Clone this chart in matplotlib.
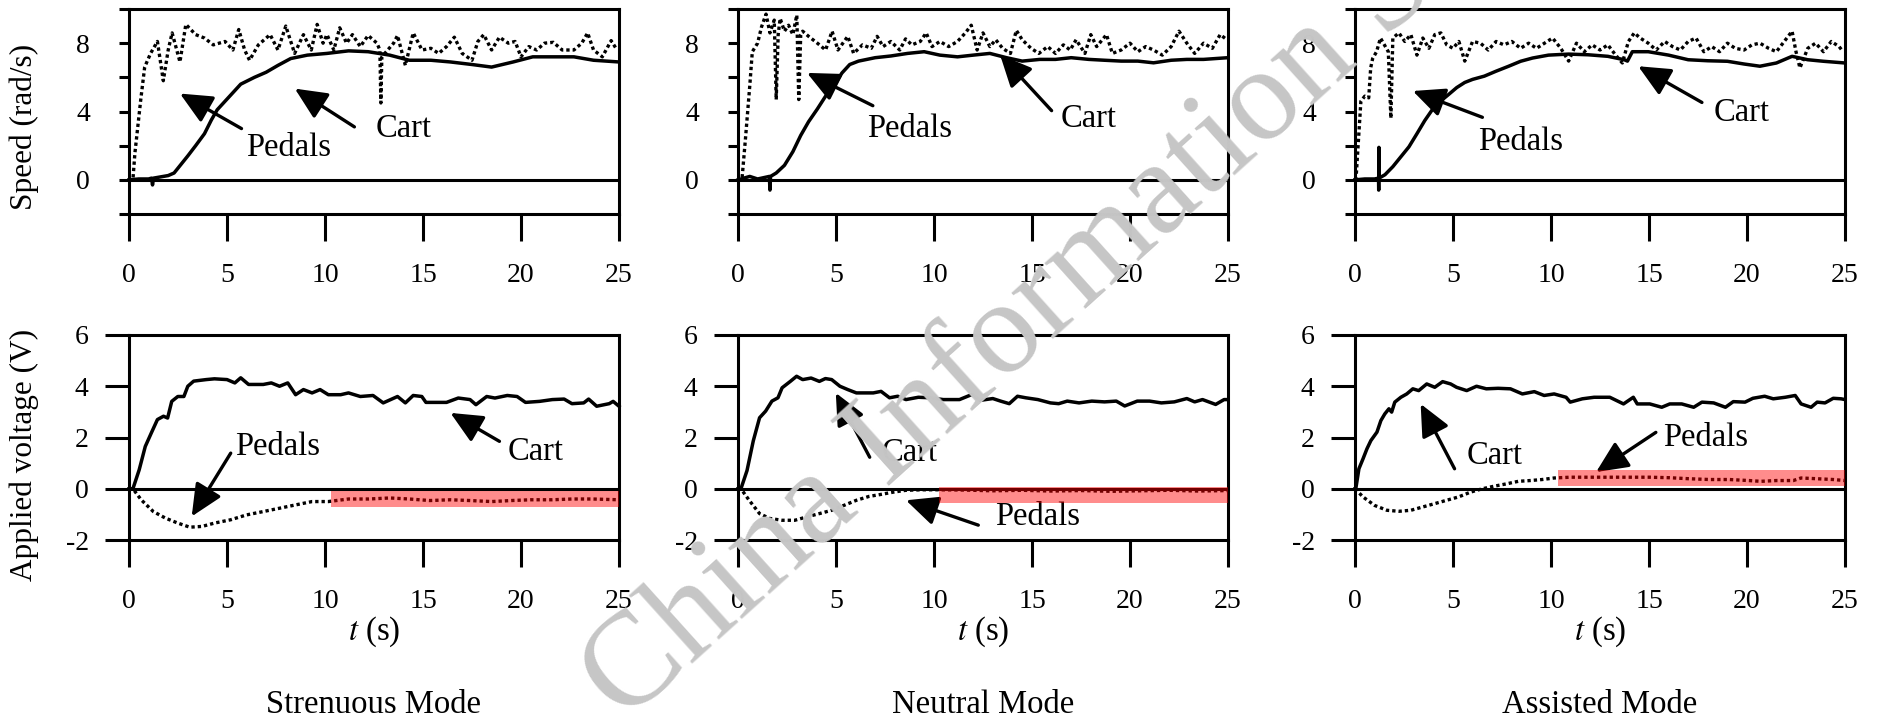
import matplotlib
matplotlib.use("Agg")
import matplotlib.pyplot as plt

plt.rcParams["font.family"] = "serif"
plt.rcParams["font.serif"] = ["Liberation Serif", "Times New Roman", "Nimbus Roman", "Tinos", "DejaVu Serif"]
plt.rcParams["mathtext.fontset"] = "stix"

W, H = 1879, 721

modes = ["Strenuous Mode", "Neutral Mode", "Assisted Mode"]

# --- speed (rad/s), top row ---
str_speed_cart_t = [0, 0.5, 1.0, 1.15, 1.2, 1.25, 1.5, 2.0, 2.3, 2.65, 3.0, 3.4, 3.85, 4.2, 4.5, 5.1, 5.7, 6.4, 7.0,
                    7.6, 8.25, 9.1, 10.1, 11.2, 12.2, 13.3, 14.3, 15.4, 16.4, 17.5, 18.5, 19.6, 20.6, 21.65, 22.7,
                    23.7, 25]
str_speed_cart = [0, 0.05, 0.05, 0.1, -0.3, 0.1, 0.15, 0.25, 0.4, 0.9, 1.4, 2.0, 2.7, 3.5, 4.1, 4.85, 5.6, 6.0, 6.3,
                  6.7, 7.1, 7.3, 7.4, 7.55, 7.5, 7.3, 7.0, 7.0, 6.9, 6.75, 6.6, 6.9, 7.2, 7.2, 7.2, 7.0, 6.9]
str_speed_ped_t = [0, 0.2, 0.3, 0.6, 0.8, 1.1, 1.45, 1.75, 2.0, 2.2, 2.6, 2.9, 3.4, 3.85, 4.3, 4.9, 5.3, 5.6, 5.9, 6.15,
                   6.6, 7.2, 7.6, 8.0, 8.45, 8.9, 9.3, 9.6, 9.9, 10.1, 10.45, 10.75, 11.1, 11.4, 11.8, 12.2, 12.65,
                   12.8, 12.85, 12.9, 13.05, 13.5, 13.7, 14.1, 14.5, 14.95, 15.4, 15.8, 16.2, 16.6, 17.0, 17.5, 17.8,
                   18.1, 18.5, 18.9, 19.35, 19.7, 20.0, 20.4, 20.8, 21.2, 21.65, 22.1, 22.7, 23.1, 23.4, 23.7, 24.15,
                   24.6, 24.9]
str_speed_ped = [0, 0, 1.55, 4.7, 6.6, 7.4, 8.1, 5.8, 7.6, 8.6, 6.9, 9.1, 8.5, 8.3, 7.9, 8.1, 7.6, 8.8, 7.6, 7.0,
                 7.9, 8.5, 7.6, 9.0, 7.4, 8.5, 7.6, 9.1, 8.0, 8.5, 7.6, 8.9, 8.0, 8.5, 7.8, 8.45, 8.0,
                 7.6, 4.5, 7.2, 7.4, 8.0, 8.45, 6.7, 8.6, 7.6, 7.7, 7.4, 7.8, 8.35, 7.4, 7.0, 8.1,
                 8.5, 7.6, 8.35, 8.0, 8.1, 7.2, 7.8, 7.6, 8.0, 8.05, 7.6, 7.6, 8.0, 8.6, 7.6, 7.2,
                 8.15, 7.6]

neu_speed_cart_t = [0, 0.3, 0.6, 1.0, 1.4, 1.6, 1.63, 1.66, 1.95, 2.37, 2.8, 3.2, 3.6, 4.05, 4.47, 4.9, 5.3, 5.7, 6.15,
                    7.0, 7.8, 8.65, 9.5, 10.3, 11.2, 12.0, 12.85, 13.7, 14.5, 15.4, 16.2, 17.0, 17.9, 18.7, 19.55,
                    20.4, 21.2, 22.1, 22.9, 23.75, 25]
neu_speed_cart = [0, 0.1, 0.2, 0.05, 0.15, 0.2, -0.6, 0.2, 0.4, 0.85, 1.65, 2.6, 3.4, 4.15, 4.9, 5.5, 6.25, 6.75, 6.95,
                  7.15, 7.25, 7.4, 7.5, 7.3, 7.2, 7.3, 7.4, 7.15, 6.95, 7.05, 7.05, 7.15, 7.05, 7.0, 6.95,
                  6.95, 6.85, 7.0, 7.05, 7.05, 7.15]
neu_speed_ped_t = [0, 0.2, 0.38, 0.6, 0.73, 1.0, 1.2, 1.43, 1.63, 1.85, 1.95, 2.05, 2.15, 2.37, 2.58, 2.8, 3.0, 3.1,
                   3.2, 3.3, 3.6, 4.05, 4.47, 4.8, 5.1, 5.6, 5.9, 6.35, 6.8, 7.1, 7.4, 7.8, 8.25, 8.55, 8.87, 9.3,
                   9.6, 9.9, 10.3, 10.75, 11.2, 11.6, 11.9, 12.2, 12.5, 12.85, 13.15, 13.5, 13.9, 14.2, 14.5, 14.95,
                   15.35, 15.8, 16.2, 16.6, 16.95, 17.25, 17.7, 18.0, 18.3, 18.8, 19.1, 19.55, 20.0, 20.4, 20.8,
                   21.2, 21.65, 22.1, 22.5, 22.9, 23.3, 23.75, 24.2, 24.6, 24.95]
neu_speed_ped = [0, 0, 2.4, 5.5, 7.5, 8.0, 8.95, 9.7, 8.6, 9.35, 4.7, 8.5, 9.45, 8.7, 9.05, 8.5, 9.65, 4.7,
                 8.5, 8.7, 8.4, 8.0, 7.6, 8.7, 7.6, 8.4, 7.4, 7.9, 7.7, 8.4, 7.8, 8.1, 7.6, 8.25, 7.9, 8.1,
                 8.6, 7.8, 8.1, 7.8, 8.1, 8.6, 9.05, 7.6, 8.6, 7.8, 8.2, 7.7, 7.4, 8.75, 8.2, 7.7,
                 7.4, 7.8, 7.4, 7.9, 7.6, 8.2, 7.4, 8.5, 7.8, 8.5, 7.4, 7.6, 8.0, 7.5, 7.8,
                 7.6, 7.3, 7.8, 8.7, 8.0, 7.4, 8.0, 7.7, 8.5, 8.2]

ass_speed_cart_t = [0, 0.5, 1.0, 1.2, 1.21, 1.22, 1.23, 1.53, 1.93, 2.34, 2.75, 3.16, 3.56, 3.97, 4.38, 4.78, 5.19, 5.6,
                    6.0, 6.6, 7.2, 7.84, 8.45, 9.06, 9.87, 10.9, 11.9, 12.9, 13.74, 13.9, 14.15, 14.96, 16.0, 17.0,
                    18.0, 19.0, 19.85, 20.66, 21.5, 22.3, 23.1, 23.9, 25]
ass_speed_cart = [0, 0.05, 0.05, 0.1, -0.6, 1.9, 0.1, 0.3, 0.77, 1.35, 1.93, 2.7, 3.47, 4.15, 4.62, 5.0, 5.4, 5.7,
                  5.88, 6.07, 6.36, 6.65, 6.94, 7.13, 7.3, 7.36, 7.32, 7.23, 7.03, 6.95, 7.5, 7.5, 7.3, 7.03,
                  6.97, 6.94, 6.78, 6.65, 6.84, 7.23, 7.03, 6.94, 6.84]
ass_speed_ped_t = [0, 0.06, 0.3, 0.5, 0.7, 0.8, 0.9, 1.1, 1.3, 1.5, 1.7, 1.83, 1.93, 2.24, 2.54, 2.85, 3.16, 3.46,
                   3.77, 4.07, 4.38, 4.68, 5.0, 5.3, 5.6, 6.0, 6.4, 6.8, 7.2, 7.6, 8.0, 8.45, 8.86, 9.26, 9.67,
                   10.08, 10.5, 10.9, 11.3, 11.7, 12.1, 12.5, 12.9, 13.3, 13.64, 13.95, 14.25, 14.55, 14.96, 15.37,
                   15.8, 16.2, 16.6, 17.0, 17.4, 17.8, 18.2, 18.6, 19.0, 19.4, 19.85, 20.25, 20.66, 21.1, 21.5,
                   21.9, 22.3, 22.5, 22.7, 23.1, 23.5, 23.9, 24.3, 24.7, 24.9]
ass_speed_ped = [0, 0.2, 4.6, 4.9, 4.8, 6.55, 7.1, 7.5, 8.3, 7.9, 7.5, 3.6, 8.3, 8.6, 8.1, 8.5, 7.3, 8.3,
                 7.7, 8.5, 8.6, 7.9, 7.7, 8.1, 6.95, 8.1, 8.0, 7.6, 8.1, 7.9, 8.1, 7.7, 8.0, 7.7, 8.0,
                 8.3, 7.7, 6.95, 8.0, 7.5, 7.9, 7.6, 7.9, 7.3, 6.84, 8.1, 8.6, 8.3, 8.0, 7.6,
                 8.1, 7.8, 7.6, 8.1, 8.3, 7.5, 7.8, 7.5, 8.0, 7.7, 7.6, 7.9, 8.0, 7.7, 7.5,
                 8.1, 8.7, 7.5, 6.55, 7.7, 8.0, 7.5, 8.1, 7.8, 7.5]

# --- applied voltage (V), bottom row ---
str_volt_cart_t = [0, 0.2, 0.52, 0.83, 1.14, 1.45, 1.76, 1.97, 2.18, 2.49, 2.8, 3.0, 3.3, 3.94, 4.36, 5.0, 5.4, 5.7,
                   6.1, 6.85, 7.26, 7.68, 8.1, 8.5, 8.9, 9.34, 9.75, 10.17, 10.8, 11.2, 11.8, 12.45, 12.97, 13.7,
                   14.1, 14.5, 14.94, 15.15, 16.2, 16.8, 17.4, 17.7, 18.25, 18.67, 19.3, 19.8, 20.23, 20.95, 21.6,
                   22.2, 22.6, 23.2, 23.45, 23.86, 24.5, 24.7, 25]
str_volt_cart = [0, 0, 0.74, 1.65, 2.18, 2.7, 2.83, 2.76, 3.41, 3.6, 3.6, 4.0, 4.2, 4.26, 4.29, 4.26, 4.13, 4.33,
                 4.07, 4.07, 4.13, 4.0, 4.13, 3.67, 3.87, 3.74, 3.87, 3.67, 3.67, 3.74, 3.6, 3.64, 3.35, 3.6,
                 3.35, 3.64, 3.6, 3.37, 3.37, 3.54, 3.48, 3.28, 3.6, 3.54, 3.64, 3.6, 3.37, 3.41, 3.48,
                 3.5, 3.32, 3.35, 3.5, 3.22, 3.32, 3.41, 3.22]
str_volt_ped_t = [0, 0.2, 0.62, 1.24, 1.87, 2.49, 3.1, 3.73, 4.36, 5.19, 6.0, 6.85, 7.68, 8.5, 9.34, 10.17, 11.2,
                  12.24, 13.3, 14.3, 15.35, 16.4, 17.4, 18.5, 19.5, 20.5, 21.6, 22.6, 23.65, 25]
str_volt_ped = [0, 0, -0.43, -0.89, -1.15, -1.34, -1.5, -1.47, -1.34, -1.21, -1.02, -0.89, -0.76, -0.63, -0.5, -0.5,
                -0.4, -0.4, -0.36, -0.4, -0.46, -0.43, -0.46, -0.5, -0.46, -0.43, -0.43, -0.4, -0.4, -0.43]

neu_volt_cart_t = [0, 0.15, 0.46, 0.78, 1.1, 1.41, 1.73, 2.04, 2.25, 2.67, 2.99, 3.3, 3.73, 4.15, 4.46, 4.78, 5.2, 5.6,
                   6.04, 6.9, 7.3, 7.73, 8.15, 8.57, 9.2, 9.84, 10.47, 11.3, 11.94, 12.36, 13.0, 13.4, 13.84, 14.26,
                   14.68, 15.3, 15.94, 16.36, 16.8, 17.4, 18.05, 18.7, 19.3, 19.73, 20.37, 21.0, 21.6, 22.26, 22.9,
                   23.3, 23.7, 24.37, 24.8, 25]
neu_volt_cart = [0, 0, 0.71, 1.87, 2.77, 3.03, 3.42, 3.55, 3.94, 4.19, 4.39, 4.26, 4.32, 4.19, 4.3, 4.26, 4.0, 3.87,
                 3.74, 3.74, 3.8, 3.55, 3.61, 3.48, 3.57, 3.55, 3.48, 3.48, 3.68, 3.45, 3.52, 3.42, 3.32, 3.61,
                 3.55, 3.48, 3.35, 3.32, 3.42, 3.35, 3.42, 3.39, 3.42, 3.23, 3.42, 3.42, 3.35, 3.39, 3.52,
                 3.39, 3.48, 3.29, 3.48, 3.48]
neu_volt_ped_t = [0, 0.15, 0.57, 1.1, 1.62, 2.25, 2.9, 3.5, 4.15, 4.78, 5.4, 6.04, 6.68, 7.3, 7.94, 8.57, 9.4, 10.26,
                  11.5, 13.0, 14.5, 16.0, 17.5, 19.0, 20.5, 22.0, 23.5, 25]
neu_volt_ped = [0, 0, -0.45, -0.97, -1.16, -1.23, -1.23, -1.1, -0.97, -0.84, -0.65, -0.45, -0.3, -0.22, -0.13, -0.06,
                -0.04, -0.04, -0.05, -0.08, -0.06, -0.09, -0.07, -0.1, -0.08, -0.06, -0.09, -0.07]

ass_volt_cart_t = [0, 0.04, 0.2, 0.41, 0.61, 0.81, 1.12, 1.32, 1.52, 1.73, 1.87, 2.03, 2.34, 2.64, 2.95, 3.25, 3.66,
                   4.07, 4.47, 4.88, 5.18, 5.7, 6.2, 6.7, 7.3, 7.93, 8.54, 9.15, 9.65, 10.16, 10.77, 10.98, 11.6,
                   12.2, 13.0, 13.7, 14.2, 14.4, 15.04, 15.65, 16.06, 16.67, 17.28, 17.7, 18.3, 18.9, 19.3, 19.9,
                   20.3, 20.9, 21.34, 21.95, 22.46, 22.76, 23.27, 23.58, 23.98, 24.4, 24.8, 25]
ass_volt_cart = [0, 0, 0.78, 1.17, 1.56, 1.88, 2.21, 2.66, 2.92, 3.12, 2.99, 3.38, 3.57, 3.7, 3.9, 3.83, 4.09,
                 3.96, 4.18, 4.09, 3.96, 3.83, 4.0, 3.9, 3.92, 3.9, 3.7, 3.79, 3.64, 3.7, 3.57, 3.38, 3.51,
                 3.57, 3.57, 3.31, 3.57, 3.31, 3.31, 3.18, 3.31, 3.31, 3.18, 3.38, 3.35, 3.18, 3.4, 3.38,
                 3.53, 3.61, 3.51, 3.57, 3.64, 3.31, 3.18, 3.38, 3.35, 3.53, 3.51, 3.48]
ass_volt_ped_t = [0, 0.41, 1.0, 1.63, 2.24, 2.85, 3.46, 4.07, 4.67, 5.28, 5.9, 6.5, 7.1, 7.72, 8.33, 8.94, 9.55, 10.16,
                  10.98, 12.0, 13.0, 14.0, 15.04, 16.06, 17.07, 18.1, 19.1, 20.1, 20.7, 21.5, 22.36, 22.76, 23.6,
                  24.4, 25]
ass_volt_ped = [0, -0.32, -0.65, -0.84, -0.88, -0.84, -0.71, -0.58, -0.45, -0.32, -0.13, 0, 0.1, 0.19, 0.29, 0.32,
                0.36, 0.42, 0.45, 0.45, 0.45, 0.45, 0.45, 0.43, 0.39, 0.36, 0.36, 0.32, 0.29, 0.32, 0.32, 0.42,
                0.39, 0.36, 0.32]

# red highlight bands (bottom row): start time, low, high
band_t0 = [10.33, 10.25, 10.37]
band_lo = [-0.72, -0.56, 0.10]
band_hi = [-0.10, 0.07, 0.72]

# annotations: (label, label xy, arrow tail, arrow tip)
speed_notes = [
    [("Pedals", (8.15, 1.85), (5.74, 3.0), (2.6, 5.05)), ("Cart", (14.0, 3.0), (11.5, 3.1), (8.46, 5.34))],
    [("Pedals", (8.76, 3.0), (6.88, 4.34), (3.52, 6.26)), ("Cart", (17.9, 3.56), (16.0, 4.05), (13.37, 7.32))],
    [("Pedals", (8.45, 2.2), (6.5, 3.66), (2.95, 5.2)), ("Cart", (19.75, 3.95), (17.7, 4.53), (14.45, 6.65))],
]
volt_notes = [
    [("Pedals", (7.57, 1.65), (5.19, 1.39), (3.2, -1.08)), ("Cart", (20.75, 1.46), (18.9, 1.85), (16.4, 2.96))],
    [("Cart", (8.78, 1.42), (6.72, 1.23), (4.99, 3.74)), ("Pedals", (15.3, -1.1), (12.26, -1.42), (8.57, -0.45))],
    [("Cart", (7.11, 1.3), (5.08, 0.78), (3.35, 3.31)), ("Pedals", (17.9, 2.0), (15.35, 2.2), (12.3, 0.65))],
]

speed_data = [
    (str_speed_cart_t, str_speed_cart, str_speed_ped_t, str_speed_ped),
    (neu_speed_cart_t, neu_speed_cart, neu_speed_ped_t, neu_speed_ped),
    (ass_speed_cart_t, ass_speed_cart, ass_speed_ped_t, ass_speed_ped),
]
volt_data = [
    (str_volt_cart_t, str_volt_cart, str_volt_ped_t, str_volt_ped),
    (neu_volt_cart_t, neu_volt_cart, neu_volt_ped_t, neu_volt_ped),
    (ass_volt_cart_t, ass_volt_cart, ass_volt_ped_t, ass_volt_ped),
]

col_x = [129, 738, 1355]
AX_W, AX_H = 490, 205
TOP_Y, BOT_Y = 9, 335

LW = 2.2
TICK_FS = 20
TXT_FS = 23.5


def px_rect(x, y):
    return [x / W, 1 - (y + AX_H) / H, AX_W / W, AX_H / H]


def style_axes(ax, ylen, ypad):
    ax.set_facecolor("none")
    for s in ax.spines.values():
        s.set_linewidth(LW)
    ax.set_xlim(0, 25)
    ax.set_xticks([0, 5, 10, 15, 20, 25])
    ax.tick_params(axis="x", direction="out", length=19.5, width=LW, labelsize=TICK_FS, pad=16)
    ax.tick_params(axis="y", direction="out", length=ylen, width=LW, labelsize=TICK_FS, pad=ypad)
    ax.axhline(0, color="black", lw=LW, zorder=2)


def draw_curves(ax, t_c, v_c, t_p, v_p):
    ax.plot(t_c, v_c, color="black", lw=2.5, zorder=3, clip_on=False)
    ax.plot(t_p, v_p, color="black", lw=2.4, ls=(0, (1, 0.9)), zorder=3, clip_on=False)


def draw_notes(ax, notes):
    for label, pos, tail, tip in notes:
        ax.text(pos[0], pos[1], label, fontsize=TXT_FS, ha="center", va="center", zorder=4)
        ax.annotate("", xy=tip, xytext=tail, zorder=4,
                    arrowprops=dict(arrowstyle="-|>,head_length=0.65,head_width=0.3", mutation_scale=30,
                                    lw=2.4, color="black", shrinkA=0, shrinkB=0))


def main():
    fig = plt.figure(figsize=(W / 100, H / 100), dpi=100)

    # faint watermark behind everything
    fig.text(624 / W, 1 - 724 / H, "China Information Science", rotation=42, rotation_mode="anchor",
             ha="left", va="baseline", fontsize=96, color="#c6c6c6", zorder=0)

    for i in range(3):
        ax = fig.add_axes(px_rect(col_x[i], TOP_Y))
        style_axes(ax, 7, 21)
        ax.set_ylim(-2, 10)
        ax.set_yticks([-2, 0, 2, 4, 6, 8, 10])
        ax.set_yticklabels(["", "0", "", "4", "", "8", ""])
        draw_curves(ax, *speed_data[i])
        draw_notes(ax, speed_notes[i])

        ax2 = fig.add_axes(px_rect(col_x[i], BOT_Y))
        style_axes(ax2, 17, 12)
        ax2.set_ylim(-2, 6)
        ax2.set_yticks([-2, 0, 2, 4, 6])
        ax2.set_yticklabels(["-2", "0", "2", "4", "6"])
        draw_curves(ax2, *volt_data[i])
        ax2.fill_between([band_t0[i], 25], [band_lo[i]] * 2, [band_hi[i]] * 2,
                         color="red", alpha=0.45, lw=0, zorder=5)
        draw_notes(ax2, volt_notes[i])

        cx = (col_x[i] + AX_W / 2) / W
        fig.text(cx, 1 - 632 / H, "$t$ (s)", fontsize=TXT_FS, ha="center", va="center")
        fig.text(cx, 1 - 705 / H, modes[i], fontsize=TXT_FS, ha="center", va="center")

    fig.text(24 / W, 1 - 127 / H, "Speed (rad/s)", rotation=90, fontsize=22.5,
             ha="center", va="center")
    fig.text(24 / W, 1 - 455 / H, "Applied voltage (V)", rotation=90, fontsize=22.5,
             ha="center", va="center")

    fig.savefig("out.png", dpi=100)
    plt.close(fig)


if __name__ == "__main__":
    main()
